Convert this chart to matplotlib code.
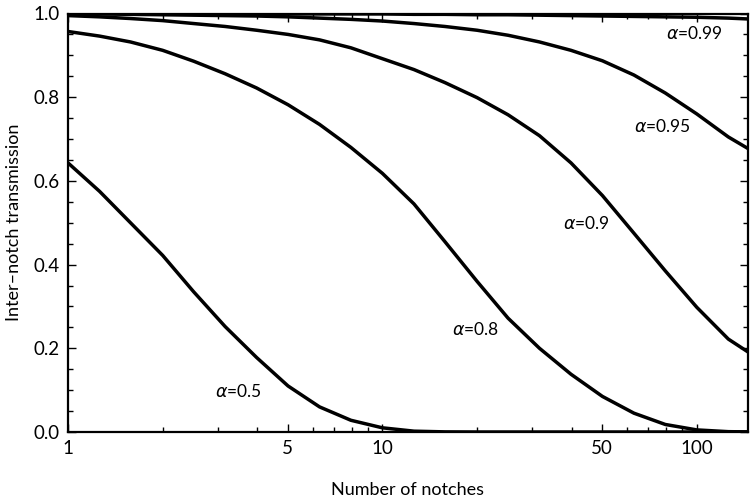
import matplotlib
matplotlib.use("Agg")
import matplotlib.pyplot as plt
from matplotlib.ticker import FixedLocator, FixedFormatter

plt.rcParams['font.family'] = ['Lato', 'DejaVu Sans']
plt.rcParams['mathtext.fontset'] = 'dejavusans'

notches = [1, 1.26, 1.58, 2, 2.51, 3.16, 3.98, 5.01, 6.31, 7.94, 10, 12.6, 15.8, 20,
           25.1, 31.6, 39.8, 50.1, 63.1, 79.4, 100, 126, 145]

# inter-notch transmission for each alpha, read at the notches above
t_05 = [0.643, 0.575, 0.500, 0.422, 0.335, 0.252, 0.178, 0.110, 0.060, 0.028, 0.010, 0.002,
        0.0003, 0.0, 0.0, 0.0, 0.0, 0.0, 0.0, 0.0, 0.0, 0.0, 0.0]
t_08 = [0.957, 0.946, 0.932, 0.912, 0.886, 0.856, 0.822, 0.782, 0.735, 0.680, 0.618, 0.545,
        0.455, 0.360, 0.272, 0.200, 0.138, 0.085, 0.045, 0.018, 0.005, 0.0008, 0.0002]
t_09 = [0.995, 0.992, 0.988, 0.983, 0.976, 0.969, 0.960, 0.950, 0.937, 0.918, 0.892, 0.866,
        0.835, 0.799, 0.758, 0.708, 0.643, 0.565, 0.475, 0.385, 0.298, 0.222, 0.192]
t_095 = [0.999, 0.999, 0.998, 0.997, 0.996, 0.995, 0.994, 0.992, 0.989, 0.986, 0.982, 0.976,
         0.969, 0.960, 0.948, 0.932, 0.912, 0.887, 0.853, 0.810, 0.760, 0.705, 0.678]
t_099 = [1.0, 1.0, 1.0, 1.0, 1.0, 1.0, 1.0, 0.999, 0.999, 0.999, 0.999, 0.998,
         0.998, 0.997, 0.997, 0.996, 0.995, 0.994, 0.993, 0.992, 0.991, 0.989, 0.987]

series = [t_05, t_08, t_09, t_095, t_099]

labels = [r'$\alpha$=0.5', r'$\alpha$=0.8', r'$\alpha$=0.9', r'$\alpha$=0.95', r'$\alpha$=0.99']
label_n = [3.48, 19.7, 44.4, 77.7, 97.9]
label_t = [0.096, 0.246, 0.499, 0.730, 0.953]

x_major = [1, 5, 10, 50, 100]
x_major_text = ['1', '5', '10', '50', '100']
x_minor = [2, 3, 4, 6, 7, 8, 9, 20, 30, 40, 60, 70, 80, 90]

fig = plt.figure(figsize=(7.5, 5), dpi=100)
ax = fig.add_axes([0.0907, 0.136, 0.906, 0.837])

for t in series:
    ax.plot(notches, t, color='black', lw=2.5, solid_joinstyle='round')

for txt, xn, yt in zip(labels, label_n, label_t):
    ax.text(xn, yt, txt, fontsize=12.5, ha='center', va='center')

ax.set_xscale('log')
ax.set_xlim(1, 145)
ax.set_ylim(0, 1.0)

ax.xaxis.set_major_locator(FixedLocator(x_major))
ax.xaxis.set_major_formatter(FixedFormatter(x_major_text))
ax.xaxis.set_minor_locator(FixedLocator(x_minor))
ax.xaxis.set_minor_formatter(FixedFormatter([''] * len(x_minor)))
ax.set_yticks([0.0, 0.2, 0.4, 0.6, 0.8, 1.0])
ax.set_yticklabels(['0.0', '0.2', '0.4', '0.6', '0.8', '1.0'])
ax.set_yticks([i * 0.05 for i in range(21)], minor=True)

ax.tick_params(which='both', direction='in', top=True, right=True, labelsize=13.5, width=1.0)
ax.tick_params(which='major', length=5.5, pad=6)
ax.tick_params(which='minor', length=3.5)
for sp in ax.spines.values():
    sp.set_linewidth(1.6)

ax.set_xlabel('Number of notches', fontsize=13, labelpad=18)
ax.set_ylabel('Inter\u2013notch transmission', fontsize=13, labelpad=8)

fig.savefig('out.png', dpi=100)
